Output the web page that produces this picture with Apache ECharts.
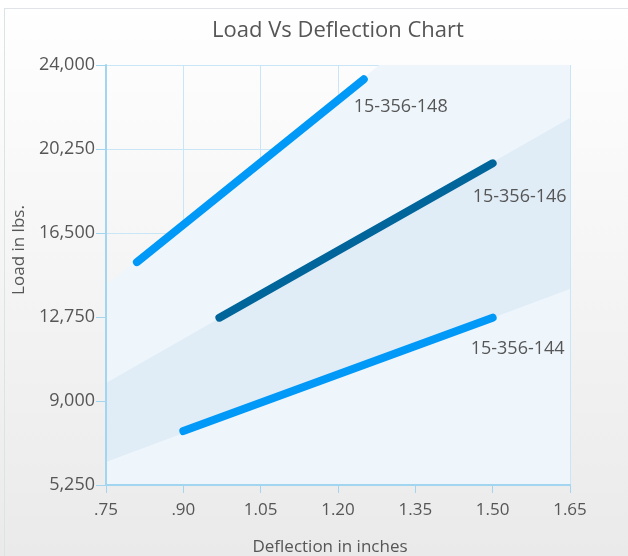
<!DOCTYPE html>
<html>
<head>
<meta charset="utf-8">
<script src="https://cdn.jsdelivr.net/npm/echarts@6/dist/echarts.min.js"></script>
<style>
  html, body { margin: 0; padding: 0; }
  #chart { width: 628px; height: 556px; }
</style>
</head>
<body>
<div id="chart"></div>
<script>
// Axis ticks
const xTicks = [0.75, 0.90, 1.05, 1.20, 1.35, 1.50, 1.65];
const yTicks = [5250, 9000, 12750, 16500, 20250, 24000];

// Spring part numbers
const partNames = ['15-356-148', '15-356-146', '15-356-144'];

// Deflection (in) and load (lbs) for each part
const deflection148 = [0.81, 1.25];
const load148 = [15200, 23360];
const deflection146 = [0.97, 1.50];
const load146 = [12720, 19610];
const deflection144 = [0.90, 1.50];
const load144 = [7660, 12720];

// Background shading of the plot, in data units
const paleRegion = [[0.75, 14180], [0.75, 5250], [1.65, 5250], [1.65, 24000], [1.28, 24000]];
const bandRegion = [[0.75, 6280], [0.75, 9800], [1.65, 21630], [1.65, 14000]];

const FONT = 'Open Sans';
const TEXT = '#565656';
const AXIS = '#a2d5f0';
const GRIDLINE = '#c9e6f6';

function pairs(xs, ys) { return xs.map((x, i) => [x, ys[i]]); }
function xLabel(v) {
  const s = v.toFixed(2);
  return v < 1 ? s.slice(1) : s;
}

function lineSeries(name, xs, ys, color, offset) {
  return {
    type: 'line',
    name: name,
    data: pairs(xs, ys),
    symbol: 'none',
    z: 5,
    lineStyle: { width: 8, color: color, cap: 'round' },
    endLabel: {
      show: true,
      formatter: name,
      offset: offset,
      fontFamily: FONT,
      fontSize: 18,
      color: TEXT
    },
    emphasis: { disabled: true }
  };
}

const chart = echarts.init(document.getElementById('chart'), null, { renderer: 'canvas' });

chart.setOption({
  animation: false,
  backgroundColor: {
    type: 'linear', x: 0, y: 0, x2: 0, y2: 1,
    colorStops: [
      { offset: 0, color: '#ffffff' },
      { offset: 1, color: '#eaeaea' }
    ]
  },
  graphic: [
    { type: 'line', shape: { x1: 4.5, y1: 8, x2: 4.5, y2: 556 }, style: { stroke: '#dde2e7', lineWidth: 1 }, silent: true },
    { type: 'line', shape: { x1: 4, y1: 8.5, x2: 628, y2: 8.5 }, style: { stroke: '#e0e4e8', lineWidth: 1 }, silent: true }
  ],
  title: {
    text: 'Load Vs Deflection Chart',
    left: 333,
    top: 15,
    textAlign: 'center',
    textStyle: { fontFamily: FONT, fontSize: 22, fontWeight: 'normal', color: TEXT }
  },
  grid: { left: 106, right: 58, top: 65, bottom: 71, containLabel: false, outerBoundsMode: 'none' },
  xAxis: {
    type: 'value',
    min: xTicks[0],
    max: xTicks[xTicks.length - 1],
    interval: 0.15,
    name: 'Deflection in inches',
    nameLocation: 'middle',
    nameGap: 54,
    nameTextStyle: { fontFamily: FONT, fontSize: 17, color: TEXT, padding: [0, 16, 0, 0] },
    axisLine: { show: true, lineStyle: { color: AXIS, width: 2 } },
    axisTick: { show: true, length: 8, lineStyle: { color: AXIS, width: 1 } },
    axisLabel: { formatter: xLabel, fontFamily: FONT, fontSize: 17, color: TEXT, margin: 17 },
    splitLine: { show: true, lineStyle: { color: GRIDLINE, width: 1 } }
  },
  yAxis: {
    type: 'value',
    min: yTicks[0],
    max: yTicks[yTicks.length - 1],
    interval: yTicks[1] - yTicks[0],
    name: 'Load in lbs.',
    nameLocation: 'middle',
    nameGap: 76,
    nameTextStyle: { fontFamily: FONT, fontSize: 17, color: TEXT, padding: [0, 0, 0, 50] },
    axisLine: { show: true, lineStyle: { color: AXIS, width: 2 } },
    axisTick: { show: true, length: 10, lineStyle: { color: AXIS, width: 1 } },
    axisLabel: {
      formatter: v => v.toLocaleString('en-US'),
      fontFamily: FONT, fontSize: 18, color: TEXT, margin: 11
    },
    splitLine: { show: true, lineStyle: { color: GRIDLINE, width: 1 } }
  },
  series: [
    {
      type: 'custom',
      silent: true,
      z: 0,
      clip: true,
      data: [[xTicks[0], yTicks[0]]],
      renderItem: function (params, api) {
        const toPx = pts => pts.map(p => api.coord(p));
        return {
          type: 'group',
          children: [
            { type: 'polygon', shape: { points: toPx(paleRegion) }, style: { fill: '#eef6fc' } },
            { type: 'polygon', shape: { points: toPx(bandRegion) }, style: { fill: '#e0ecf6' } }
          ]
        };
      }
    },
    lineSeries(partNames[0], deflection148, load148, '#0099f7', [-18, 28]),
    lineSeries(partNames[1], deflection146, load146, '#00659a', [-28, 34]),
    lineSeries(partNames[2], deflection144, load144, '#0099f7', [-30, 31])
  ]
});
</script>
</body>
</html>
